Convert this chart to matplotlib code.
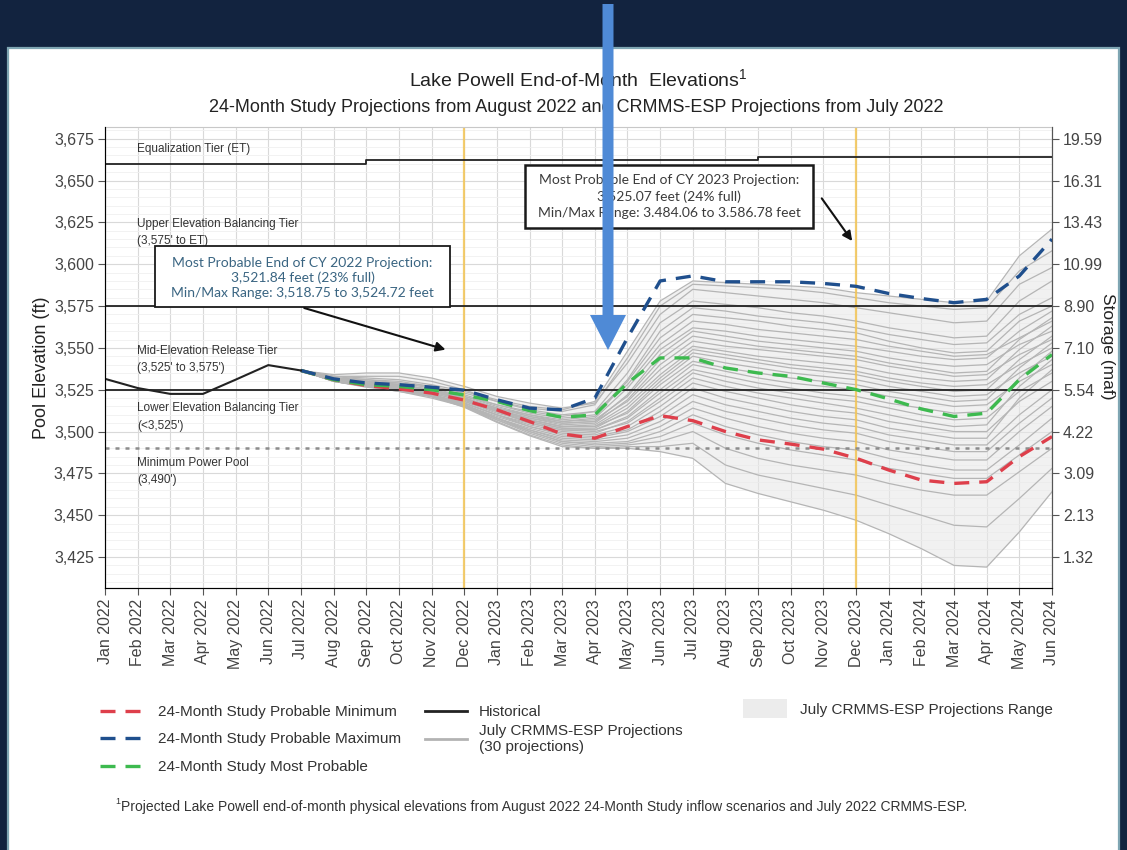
import matplotlib
matplotlib.use('Agg')
import matplotlib.pyplot as plt
from matplotlib.patches import Rectangle, FancyArrow, Patch
from matplotlib.lines import Line2D
from matplotlib.ticker import MultipleLocator
import numpy as np

plt.rcParams['font.family'] = ['Liberation Sans', 'DejaVu Sans']
plt.rcParams['mathtext.fontset'] = 'custom'
plt.rcParams['mathtext.rm'] = 'Liberation Sans'

# ---- data -------------------------------------------------------------
months = ['Jan 2022', 'Feb 2022', 'Mar 2022', 'Apr 2022', 'May 2022', 'Jun 2022',
          'Jul 2022', 'Aug 2022', 'Sep 2022', 'Oct 2022', 'Nov 2022', 'Dec 2022',
          'Jan 2023', 'Feb 2023', 'Mar 2023', 'Apr 2023', 'May 2023', 'Jun 2023',
          'Jul 2023', 'Aug 2023', 'Sep 2023', 'Oct 2023', 'Nov 2023', 'Dec 2023',
          'Jan 2024', 'Feb 2024', 'Mar 2024', 'Apr 2024', 'May 2024', 'Jun 2024']

# historical end-of-month elevation, Jan 2022 - Jul 2022
hist_elev = [3531.5, 3526.0, 3522.5, 3522.5, 3531.0, 3539.7, 3536.5]

# 24-Month Study traces, Jul 2022 - Jun 2024
min_prob = [3536.5, 3531.0, 3527.5, 3525.5, 3523.0, 3518.75, 3513.0, 3506.0, 3498.5, 3496.0,
            3503.0, 3509.5, 3506.5, 3500.0, 3495.0, 3492.5, 3489.5, 3484.06, 3477.0, 3471.0,
            3469.0, 3470.0, 3485.0, 3497.0]
max_prob = [3536.5, 3531.5, 3529.0, 3528.0, 3526.5, 3524.72, 3519.0, 3514.0, 3513.0, 3520.0,
            3556.0, 3590.0, 3593.0, 3589.5, 3589.5, 3589.5, 3588.5, 3586.78, 3582.5, 3579.5,
            3577.0, 3579.0, 3593.0, 3615.0]
most_prob = [3536.5, 3531.0, 3528.0, 3527.0, 3525.0, 3521.84, 3518.0, 3512.5, 3508.5, 3510.0,
             3529.0, 3544.0, 3544.0, 3538.0, 3535.0, 3533.0, 3529.0, 3525.07, 3519.5, 3513.5,
             3509.0, 3511.0, 3531.0, 3546.0]

# July CRMMS-ESP traces (30 runs), Jul 2022 - Jun 2024
esp_runs = [
    [3536.5, 3533, 3532, 3531, 3528, 3524, 3519, 3515, 3513, 3518, 3548, 3578, 3590, 3589, 3588, 3587, 3586, 3583, 3581, 3579, 3577, 3578, 3605, 3621],
    [3536.5, 3532, 3530, 3529, 3527, 3523, 3518, 3514, 3512, 3516, 3544, 3575, 3588, 3587, 3586, 3585, 3583, 3580, 3577, 3575, 3573, 3574, 3596, 3608],
    [3536.5, 3534, 3535, 3535, 3532, 3527, 3521, 3517, 3514, 3517, 3541, 3570, 3585, 3583, 3581, 3579, 3577, 3574, 3571, 3568, 3565, 3566, 3588, 3598],
    [3536.5, 3532, 3529, 3527, 3525, 3521, 3516, 3512, 3509, 3512, 3535, 3565, 3578, 3576, 3574, 3571, 3569, 3566, 3562, 3559, 3556, 3557, 3578, 3590],
    [3536.5, 3533, 3531, 3530, 3527, 3522, 3516, 3511, 3508, 3510, 3531, 3560, 3574, 3572, 3569, 3567, 3565, 3562, 3558, 3555, 3552, 3553, 3570, 3580],
    [3536.5, 3531, 3528, 3526, 3524, 3520, 3514, 3510, 3507, 3509, 3530, 3556, 3570, 3568, 3566, 3563, 3561, 3559, 3554, 3550, 3547, 3548, 3566, 3575],
    [3536.5, 3533, 3533, 3533, 3530, 3525, 3518, 3513, 3510, 3512, 3528, 3552, 3566, 3564, 3561, 3559, 3557, 3555, 3551, 3548, 3545, 3546, 3556, 3566],
    [3536.5, 3532, 3530, 3528, 3525, 3520, 3514, 3509, 3506, 3508, 3526, 3549, 3562, 3560, 3557, 3555, 3553, 3551, 3548, 3545, 3543, 3544, 3560, 3572],
    [3536.5, 3531, 3528, 3527, 3524, 3519, 3513, 3508, 3505, 3506, 3522, 3546, 3560, 3557, 3554, 3552, 3550, 3548, 3544, 3541, 3539, 3540, 3552, 3560],
    [3536.5, 3532, 3531, 3529, 3526, 3521, 3515, 3510, 3506, 3507, 3521, 3543, 3557, 3554, 3551, 3549, 3547, 3545, 3541, 3538, 3535, 3536, 3555, 3568],
    [3536.5, 3531, 3529, 3527, 3524, 3519, 3513, 3508, 3504, 3505, 3519, 3540, 3554, 3551, 3549, 3547, 3545, 3543, 3539, 3536, 3533, 3534, 3546, 3555],
    [3536.5, 3532, 3530, 3528, 3525, 3520, 3514, 3509, 3505, 3506, 3518, 3537, 3551, 3548, 3545, 3543, 3541, 3539, 3535, 3532, 3530, 3531, 3549, 3563],
    [3536.5, 3531, 3528, 3526, 3523, 3518, 3512, 3507, 3503, 3504, 3516, 3534, 3549, 3546, 3543, 3540, 3538, 3536, 3532, 3529, 3527, 3528, 3540, 3550],
    [3536.5, 3532, 3529, 3527, 3524, 3519, 3513, 3507, 3503, 3503, 3514, 3532, 3547, 3544, 3541, 3538, 3536, 3534, 3530, 3527, 3524, 3525, 3543, 3557],
    [3536.5, 3531, 3528, 3526, 3523, 3518, 3511, 3506, 3502, 3502, 3512, 3530, 3545, 3541, 3538, 3535, 3533, 3531, 3527, 3524, 3521, 3522, 3535, 3545],
    [3536.5, 3532, 3530, 3528, 3525, 3520, 3513, 3507, 3503, 3503, 3511, 3528, 3542, 3538, 3535, 3532, 3530, 3528, 3524, 3521, 3518, 3519, 3538, 3553],
    [3536.5, 3531, 3528, 3526, 3522, 3517, 3510, 3505, 3501, 3501, 3509, 3525, 3540, 3536, 3532, 3529, 3527, 3525, 3521, 3518, 3515, 3516, 3530, 3540],
    [3536.5, 3531, 3529, 3527, 3524, 3519, 3512, 3506, 3502, 3501, 3508, 3523, 3537, 3533, 3529, 3526, 3523, 3521, 3517, 3514, 3511, 3512, 3532, 3548],
    [3536.5, 3531, 3527, 3525, 3522, 3517, 3510, 3504, 3500, 3499, 3506, 3520, 3535, 3530, 3526, 3523, 3520, 3518, 3514, 3510, 3507, 3508, 3524, 3535],
    [3536.5, 3532, 3530, 3528, 3524, 3519, 3512, 3505, 3501, 3500, 3505, 3518, 3532, 3527, 3523, 3520, 3517, 3514, 3510, 3506, 3503, 3504, 3527, 3543],
    [3536.5, 3531, 3527, 3525, 3521, 3516, 3509, 3503, 3499, 3498, 3503, 3515, 3529, 3524, 3520, 3516, 3513, 3511, 3506, 3503, 3500, 3500, 3518, 3530],
    [3536.5, 3531, 3528, 3526, 3522, 3517, 3510, 3503, 3498, 3497, 3501, 3512, 3526, 3520, 3516, 3512, 3509, 3507, 3502, 3499, 3496, 3496, 3520, 3537],
    [3536.5, 3531, 3527, 3525, 3521, 3516, 3508, 3502, 3497, 3496, 3500, 3509, 3522, 3516, 3512, 3508, 3505, 3503, 3498, 3495, 3492, 3492, 3510, 3525],
    [3536.5, 3530, 3527, 3524, 3521, 3515, 3508, 3501, 3496, 3495, 3498, 3506, 3518, 3512, 3508, 3504, 3501, 3499, 3494, 3491, 3488, 3488, 3505, 3520],
    [3536.5, 3531, 3528, 3525, 3522, 3516, 3508, 3501, 3495, 3494, 3496, 3503, 3514, 3508, 3503, 3499, 3496, 3494, 3489, 3486, 3483, 3483, 3500, 3515],
    [3536.5, 3530, 3527, 3525, 3521, 3515, 3507, 3500, 3494, 3493, 3494, 3500, 3510, 3503, 3498, 3494, 3491, 3489, 3484, 3480, 3477, 3477, 3492, 3508],
    [3536.5, 3531, 3528, 3525, 3522, 3516, 3508, 3500, 3494, 3492, 3493, 3497, 3505, 3498, 3493, 3489, 3486, 3483, 3478, 3475, 3472, 3472, 3486, 3500],
    [3536.5, 3530, 3527, 3524, 3520, 3515, 3507, 3499, 3493, 3491, 3492, 3494, 3500, 3490, 3484, 3480, 3477, 3474, 3469, 3465, 3462, 3462, 3476, 3490],
    [3536.5, 3530, 3527, 3524.5, 3521, 3515, 3506, 3498, 3492, 3490, 3491, 3491, 3493, 3480, 3474, 3470, 3466, 3462, 3456, 3450, 3444, 3443, 3460, 3478],
    [3536.5, 3530, 3526.5, 3524.5, 3521, 3514.5, 3505.5, 3497.5, 3491, 3490, 3490, 3488, 3484, 3469, 3463, 3458, 3453, 3447, 3439, 3430, 3420, 3419, 3440, 3464],
]

# operating tier boundaries
et_months = [0, 8, 20, 29]
et_elev = [3660.0, 3662.5, 3664.0, 3664.0]
upper_tier = 3575
lower_tier = 3525
min_power_pool = 3490

elev_ticks = [3425, 3450, 3475, 3500, 3525, 3550, 3575, 3600, 3625, 3650, 3675]
storage_labels = ['1.32', '2.13', '3.09', '4.22', '5.54', '7.10', '8.90',
                  '10.99', '13.43', '16.31', '19.59']

# ---- figure -----------------------------------------------------------
W, H = 1127, 850
fig = plt.figure(figsize=(W / 100, H / 100), dpi=100, facecolor='#12233f')

# white report panel
fig.patches.append(Rectangle((8 / W, -0.01), (1119 - 8) / W, (850 - 48) / H + 0.01,
                             transform=fig.transFigure, facecolor='white',
                             edgecolor='#7fa6b3', lw=1.6, zorder=-1))

ax = fig.add_axes([105 / W, 1 - 588 / H, (1052 - 105) / W, (588 - 127) / H])
ax.set_xlim(0, len(months) - 1)
ax.set_ylim(3406.5, 3682)

x_all = np.arange(len(months))
x_hist = x_all[:len(hist_elev)]
x_proj = x_all[6:6 + len(most_prob)]

# grid
ax.yaxis.set_minor_locator(MultipleLocator(5))
ax.grid(which='major', color='#d9d9d9', lw=0.8, zorder=0)
ax.grid(which='minor', axis='y', color='#f0f0f0', lw=0.6, zorder=0)
ax.set_axisbelow(True)

# CRMMS-ESP range and runs
runs = np.array(esp_runs)
ax.fill_between(x_proj, runs.min(axis=0), runs.max(axis=0), color='#e8e8e8',
                alpha=0.6, lw=0, zorder=1)
for run in esp_runs:
    ax.plot(x_proj, run, color='#b5b5b5', lw=0.9, zorder=2)

# end of calendar year markers
for m in ['Dec 2022', 'Dec 2023']:
    ax.axvline(months.index(m), color='#f3c555', lw=1.6, alpha=0.85, zorder=2.5)

# tier lines
ax.step(et_months, et_elev, where='post', color='#222222', lw=1.3, zorder=3)
ax.axhline(upper_tier, color='#222222', lw=1.3, zorder=3)
ax.axhline(lower_tier, color='#222222', lw=1.3, zorder=3)
ax.axhline(min_power_pool, color='#8c8c8c', lw=1.8, dashes=(1.6, 2.4), zorder=3)

tier_labels = [
    (3668.6, 'Equalization Tier (ET)'),
    (3619.0, "Upper Elevation Balancing Tier\n(3,575' to ET)"),
    (3543.0, "Mid-Elevation Release Tier\n(3,525' to 3,575')"),
    (3508.7, "Lower Elevation Balancing Tier\n(<3,525')"),
    (3476.1, "Minimum Power Pool\n(3,490')"),
]
for y, txt in tier_labels:
    ax.text(0.98, y, txt, fontsize=8.5, color='#333333', va='center', ha='left',
            linespacing=1.58, zorder=4)

# 24-Month Study traces and history
dash = (4.5, 3.0)
ax.plot(x_proj, min_prob, color='#de3f4b', lw=2.4, dashes=dash, zorder=5)
ax.plot(x_proj, most_prob, color='#3dba4f', lw=2.4, dashes=dash, zorder=5)
ax.plot(x_proj, max_prob, color='#1f4f8d', lw=2.4, dashes=dash, zorder=5)
ax.plot(x_hist, hist_elev, color='#222222', lw=1.5, zorder=5)

# annotation boxes
box_kw = dict(facecolor='white', edgecolor='#1a1a1a', zorder=6)
ax.add_patch(Rectangle((1.53, 3574.6), 10.56 - 1.53, 3610.9 - 3574.6, lw=1.3, **box_kw))
ax.text(6.05, 3592.0,
        'Most Probable End of CY 2022 Projection:\n3,521.84 feet (23% full)\n'
        'Min/Max Range: 3,518.75 to 3,524.72 feet',
        family=['Lato', 'DejaVu Sans'], fontsize=10, color='#3a6582', ha='center',
        va='center', linespacing=1.27, zorder=7)
ax.annotate('', xy=(10.51, 3548.5), xytext=(6.02, 3574.3),
            arrowprops=dict(arrowstyle='-|>', color='#111111', lw=1.5, mutation_scale=14),
            zorder=7)

ax.add_patch(Rectangle((12.86, 3621.7), 21.68 - 12.86, 3659.3 - 3621.7, lw=1.8, **box_kw))
ax.text(17.27, 3640.5,
        'Most Probable End of CY 2023 Projection:\n3,525.07 feet (24% full)\n'
        'Min/Max Range: 3.484.06 to 3.586.78 feet',
        family=['Lato', 'DejaVu Sans'], fontsize=10, color='#3b3b3b', ha='center',
        va='center', linespacing=1.38, zorder=7)
ax.annotate('', xy=(22.93, 3612.5), xytext=(21.9, 3640.7),
            arrowprops=dict(arrowstyle='-|>', color='#111111', lw=1.5, mutation_scale=14),
            zorder=7)

# axes styling
ax.set_xticks(x_all)
ax.set_xticklabels(months, rotation=90, fontsize=11.5, color='#444444')
ax.set_yticks(elev_ticks)
ax.set_yticklabels([f'{v:,}' for v in elev_ticks], fontsize=11.5, color='#444444')
ax.tick_params(which='major', direction='out', length=5, color='#555555', pad=3)
ax.tick_params(which='minor', length=0)
for side in ['left', 'bottom', 'right']:
    ax.spines[side].set_color('#555555')
ax.spines['top'].set_color('#c8c8c8')

ax.set_ylabel('Pool Elevation (ft)', fontsize=13, color='#222222', va='center', ha='center')
ax.yaxis.set_label_coords(-0.067, 0.477)

ax2 = ax.twinx()
ax2.set_ylim(ax.get_ylim())
ax2.set_yticks(elev_ticks)
ax2.set_yticklabels(storage_labels, fontsize=11.5, color='#444444')
ax2.tick_params(direction='out', length=5, color='#555555', pad=3)
ax2.spines['right'].set_color('#555555')
ax2.spines['top'].set_visible(False)
ax2.set_ylabel('Storage (maf)', fontsize=12.5, color='#222222', rotation=270,
               va='center', ha='center')
ax2.yaxis.set_label_coords(1.059, 0.525)

# titles
fig.text(578 / W, 1 - 80 / H, 'Lake Powell End-of-Month  Elevations$^1$',
         fontsize=14, ha='center', va='center', color='#222222')
fig.text(576 / W, 1 - 107 / H,
         '24-Month Study Projections from August 2022 and CRMMS-ESP Projections from July 2022',
         fontsize=13, ha='center', va='center', color='#222222')

# legends
leg_kw = dict(loc='upper left', frameon=False, fontsize=11, borderpad=0,
              borderaxespad=0, labelcolor='#333333')
h1 = [Line2D([], [], color='#de3f4b', lw=2.4, dashes=dash),
      Line2D([], [], color='#1f4f8d', lw=2.4, dashes=dash),
      Line2D([], [], color='#3dba4f', lw=2.4, dashes=dash)]
fig.legend(h1, ['24-Month Study Probable Minimum', '24-Month Study Probable Maximum',
                '24-Month Study Most Probable'],
           bbox_to_anchor=(100 / W, 1 - 705 / H), handlelength=2.75, handletextpad=1.05,
           labelspacing=0.88, **leg_kw)
h2 = [Line2D([], [], color='#222222', lw=2),
      Line2D([], [], color='#b3b3b3', lw=2)]
fig.legend(h2, ['Historical', 'July CRMMS-ESP Projections\n(30 projections)'],
           bbox_to_anchor=(425 / W, 1 - 705 / H), handlelength=2.75, handletextpad=0.8,
           labelspacing=0.32, **leg_kw)
fig.legend([Patch(facecolor='#ececec', edgecolor='none')],
           ['July CRMMS-ESP Projections Range'],
           bbox_to_anchor=(743 / W, 1 - 699 / H), handlelength=2.9, handleheight=1.57,
           handletextpad=0.8, **leg_kw)

# footnote
fig.text(115 / W, 1 - 801 / H, '1', fontsize=6.5, ha='left', va='center', color='#333333')
fig.text(121 / W, 1 - 807 / H,
         'Projected Lake Powell end-of-month physical elevations from August 2022 '
         '24-Month Study inflow scenarios and July 2022 CRMMS-ESP.',
         fontsize=10, ha='left', va='center', color='#333333')

# callout arrow
fig.patches.append(FancyArrow(608 / W, 1 - 4 / H, 0, -(350 - 4) / H, width=11 / W,
                              head_width=36 / W, head_length=35 / H,
                              length_includes_head=True, transform=fig.transFigure,
                              color='#4f8ad6', lw=0, zorder=20))

fig.savefig('out.png', dpi=100, facecolor=fig.get_facecolor())
